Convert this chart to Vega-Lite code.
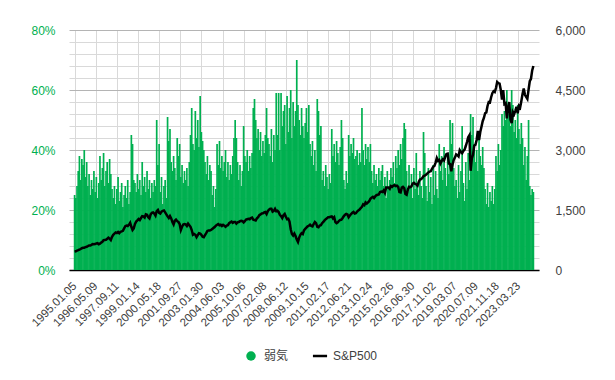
{
"$schema": "https://vega.github.io/schema/vega-lite/v6.json",
"width": 470, "height": 240,
"autosize": {"type": "none"},
"padding": {"left": 69, "top": 30, "right": 76, "bottom": 110},
"background": "white",
"config": {"view": {"stroke": null}, "font": "Liberation Sans"},
"data": {"values": [
{"w":0,"b":25,"s":460},{"w":4,"b":24,"s":468},{"w":8,"b":28,"s":482},{"w":12,"b":33,"s":495},{"w":16,"b":38,"s":510},{"w":20,"b":30,"s":525},{"w":24,"b":37,"s":545},{"w":28,"b":35,"s":555},{"w":32,"b":40,"s":558},{"w":36,"b":31,"s":570},
{"w":40,"b":36,"s":582},{"w":44,"b":28,"s":595},{"w":48,"b":32,"s":612},{"w":52,"b":25,"s":612},{"w":56,"b":30,"s":628},{"w":60,"b":27,"s":650},{"w":64,"b":33,"s":645},{"w":68,"b":26,"s":650},{"w":72,"b":31,"s":665},{"w":76,"b":24,"s":670},
{"w":80,"b":29,"s":645},{"w":84,"b":38,"s":660},{"w":88,"b":30,"s":685},{"w":92,"b":34,"s":705},{"w":96,"b":39,"s":745},{"w":100,"b":28,"s":750},{"w":104,"b":33,"s":755},{"w":108,"b":36,"s":780},{"w":112,"b":29,"s":810},{"w":116,"b":37,"s":785},
{"w":120,"b":32,"s":750},{"w":124,"b":27,"s":830},{"w":128,"b":24,"s":880},{"w":132,"b":28,"s":910},{"w":136,"b":22,"s":940},{"w":140,"b":27,"s":925},{"w":144,"b":31,"s":950},{"w":148,"b":23,"s":920},{"w":152,"b":26,"s":955},{"w":156,"b":29,"s":965},
{"w":160,"b":21,"s":980},{"w":164,"b":25,"s":1040},{"w":168,"b":28,"s":1095},{"w":172,"b":24,"s":1110},{"w":176,"b":30,"s":1100},{"w":180,"b":22,"s":1130},{"w":184,"b":26,"s":1180},{"w":188,"b":45,"s":1080},{"w":192,"b":42,"s":1000},{"w":196,"b":30,"s":1040},
{"w":200,"b":29,"s":1150},{"w":204,"b":26,"s":1210},{"w":208,"b":32,"s":1240},{"w":212,"b":27,"s":1275},{"w":216,"b":30,"s":1250},{"w":220,"b":25,"s":1300},{"w":224,"b":36,"s":1345},{"w":228,"b":28,"s":1340},{"w":232,"b":31,"s":1310},{"w":236,"b":26,"s":1390},
{"w":240,"b":33,"s":1380},{"w":244,"b":27,"s":1320},{"w":248,"b":30,"s":1290},{"w":252,"b":24,"s":1390},{"w":256,"b":29,"s":1430},{"w":260,"b":26,"s":1440},{"w":264,"b":30,"s":1410},{"w":268,"b":28,"s":1360},{"w":272,"b":50,"s":1470},{"w":276,"b":35,"s":1500},
{"w":280,"b":42,"s":1430},{"w":284,"b":26,"s":1410},{"w":288,"b":31,"s":1460},{"w":292,"b":22,"s":1480},{"w":296,"b":28,"s":1490},{"w":300,"b":30,"s":1440},{"w":304,"b":24,"s":1390},{"w":308,"b":51,"s":1340},{"w":312,"b":43,"s":1300},{"w":316,"b":47,"s":1350},
{"w":320,"b":36,"s":1290},{"w":324,"b":33,"s":1200},{"w":328,"b":38,"s":1140},{"w":332,"b":34,"s":1230},{"w":336,"b":30,"s":1260},{"w":340,"b":44,"s":1220},{"w":344,"b":38,"s":1200},{"w":348,"b":42,"s":1150},{"w":352,"b":31,"s":1000},{"w":356,"b":35,"s":1080},
{"w":360,"b":29,"s":1140},{"w":364,"b":33,"s":1150},{"w":368,"b":30,"s":1140},{"w":372,"b":34,"s":1100},{"w":376,"b":28,"s":1160},{"w":380,"b":36,"s":1120},{"w":384,"b":45,"s":1080},{"w":388,"b":54,"s":1000},{"w":392,"b":42,"s":880},{"w":396,"b":40,"s":900},
{"w":400,"b":53,"s":880},{"w":404,"b":44,"s":820},{"w":408,"b":50,"s":870},{"w":412,"b":41,"s":920},{"w":416,"b":58,"s":910},{"w":420,"b":46,"s":880},{"w":424,"b":43,"s":830},{"w":428,"b":40,"s":820},{"w":432,"b":36,"s":870},{"w":436,"b":32,"s":920},
{"w":440,"b":38,"s":975},{"w":444,"b":30,"s":990},{"w":448,"b":35,"s":990},{"w":452,"b":33,"s":1000},{"w":456,"b":25,"s":1025},{"w":460,"b":28,"s":1050},{"w":464,"b":21,"s":1075},{"w":468,"b":27,"s":1110},{"w":472,"b":42,"s":1130},{"w":476,"b":35,"s":1150},
{"w":480,"b":43,"s":1120},{"w":484,"b":34,"s":1130},{"w":488,"b":38,"s":1100},{"w":492,"b":33,"s":1130},{"w":496,"b":36,"s":1110},{"w":500,"b":40,"s":1080},{"w":504,"b":31,"s":1110},{"w":508,"b":36,"s":1120},{"w":512,"b":30,"s":1170},{"w":516,"b":35,"s":1195},
{"w":520,"b":32,"s":1210},{"w":524,"b":38,"s":1180},{"w":528,"b":44,"s":1200},{"w":532,"b":50,"s":1200},{"w":536,"b":44,"s":1160},{"w":540,"b":36,"s":1190},{"w":544,"b":30,"s":1200},{"w":548,"b":35,"s":1220},{"w":552,"b":28,"s":1230},{"w":556,"b":33,"s":1220},
{"w":560,"b":48,"s":1190},{"w":564,"b":38,"s":1220},{"w":568,"b":36,"s":1260},{"w":572,"b":40,"s":1270},{"w":576,"b":33,"s":1280},{"w":580,"b":38,"s":1270},{"w":584,"b":34,"s":1300},{"w":588,"b":39,"s":1310},{"w":592,"b":54,"s":1260},{"w":596,"b":57,"s":1250},
{"w":600,"b":50,"s":1240},{"w":604,"b":44,"s":1290},{"w":608,"b":47,"s":1320},{"w":612,"b":40,"s":1370},{"w":616,"b":46,"s":1390},{"w":620,"b":38,"s":1415},{"w":624,"b":43,"s":1420},{"w":628,"b":39,"s":1440},{"w":632,"b":45,"s":1450},{"w":636,"b":54,"s":1400},
{"w":640,"b":44,"s":1470},{"w":644,"b":42,"s":1510},{"w":648,"b":38,"s":1530},{"w":652,"b":47,"s":1530},{"w":656,"b":36,"s":1460},{"w":660,"b":45,"s":1480},{"w":664,"b":40,"s":1530},{"w":668,"b":59,"s":1470},{"w":672,"b":45,"s":1480},{"w":676,"b":59,"s":1450},
{"w":680,"b":40,"s":1380},{"w":684,"b":59,"s":1350},{"w":688,"b":48,"s":1300},{"w":692,"b":53,"s":1370},{"w":696,"b":55,"s":1400},{"w":700,"b":42,"s":1330},{"w":704,"b":58,"s":1270},{"w":708,"b":46,"s":1280},{"w":712,"b":54,"s":1210},{"w":716,"b":60,"s":1020},
{"w":720,"b":44,"s":900},{"w":724,"b":56,"s":860},{"w":728,"b":48,"s":910},{"w":732,"b":53,"s":850},{"w":736,"b":70,"s":760},{"w":740,"b":55,"s":700},{"w":744,"b":50,"s":810},{"w":748,"b":45,"s":880},{"w":752,"b":54,"s":920},{"w":756,"b":48,"s":900},
{"w":760,"b":44,"s":990},{"w":764,"b":49,"s":1030},{"w":768,"b":54,"s":1060},{"w":772,"b":46,"s":1090},{"w":776,"b":55,"s":1105},{"w":780,"b":42,"s":1130},{"w":784,"b":38,"s":1100},{"w":788,"b":43,"s":1090},{"w":792,"b":35,"s":1150},{"w":796,"b":40,"s":1200},
{"w":800,"b":33,"s":1170},{"w":804,"b":57,"s":1080},{"w":808,"b":53,"s":1070},{"w":812,"b":45,"s":1110},{"w":816,"b":48,"s":1120},{"w":820,"b":30,"s":1170},{"w":824,"b":33,"s":1200},{"w":828,"b":28,"s":1240},{"w":832,"b":35,"s":1270},{"w":836,"b":31,"s":1290},
{"w":840,"b":27,"s":1320},{"w":844,"b":32,"s":1320},{"w":848,"b":29,"s":1330},{"w":852,"b":47,"s":1340},{"w":856,"b":38,"s":1290},{"w":860,"b":42,"s":1320},{"w":864,"b":36,"s":1200},{"w":868,"b":43,"s":1170},{"w":872,"b":39,"s":1190},{"w":876,"b":35,"s":1230},
{"w":880,"b":41,"s":1250},{"w":884,"b":50,"s":1260},{"w":888,"b":44,"s":1300},{"w":892,"b":30,"s":1350},{"w":896,"b":27,"s":1380},{"w":900,"b":33,"s":1400},{"w":904,"b":29,"s":1390},{"w":908,"b":45,"s":1320},{"w":912,"b":38,"s":1360},{"w":916,"b":42,"s":1400},
{"w":920,"b":39,"s":1430},{"w":924,"b":44,"s":1450},{"w":928,"b":37,"s":1410},{"w":932,"b":38,"s":1420},{"w":936,"b":40,"s":1460},{"w":940,"b":35,"s":1490},{"w":944,"b":39,"s":1510},{"w":948,"b":36,"s":1550},{"w":952,"b":54,"s":1580},{"w":956,"b":40,"s":1640},
{"w":960,"b":35,"s":1620},{"w":964,"b":42,"s":1690},{"w":968,"b":37,"s":1660},{"w":972,"b":41,"s":1690},{"w":976,"b":36,"s":1720},{"w":980,"b":42,"s":1780},{"w":984,"b":33,"s":1810},{"w":988,"b":29,"s":1830},{"w":992,"b":35,"s":1800},{"w":996,"b":30,"s":1840},
{"w":1000,"b":32,"s":1870},{"w":1004,"b":28,"s":1880},{"w":1008,"b":34,"s":1890},{"w":1012,"b":30,"s":1950},{"w":1016,"b":33,"s":1960},{"w":1020,"b":35,"s":1950},{"w":1024,"b":28,"s":1990},{"w":1028,"b":31,"s":1930},{"w":1032,"b":24,"s":2060},{"w":1036,"b":33,"s":2060},
{"w":1040,"b":27,"s":2060},{"w":1044,"b":30,"s":2030},{"w":1048,"b":34,"s":2100},{"w":1052,"b":31,"s":2080},{"w":1056,"b":36,"s":2110},{"w":1060,"b":29,"s":2120},{"w":1064,"b":38,"s":2100},{"w":1068,"b":34,"s":2110},{"w":1072,"b":40,"s":2080},{"w":1076,"b":35,"s":1950},
{"w":1080,"b":42,"s":1940},{"w":1084,"b":37,"s":2060},{"w":1088,"b":44,"s":2080},{"w":1092,"b":49,"s":2050},{"w":1096,"b":47,"s":1900},{"w":1100,"b":33,"s":1880},{"w":1104,"b":26,"s":2010},{"w":1108,"b":35,"s":2080},{"w":1112,"b":28,"s":2070},{"w":1116,"b":32,"s":2090},
{"w":1120,"b":24,"s":2160},{"w":1124,"b":34,"s":2180},{"w":1128,"b":27,"s":2150},{"w":1132,"b":39,"s":2140},{"w":1136,"b":29,"s":2110},{"w":1140,"b":25,"s":2200},{"w":1144,"b":33,"s":2260},{"w":1148,"b":28,"s":2270},{"w":1152,"b":24,"s":2300},{"w":1156,"b":46,"s":2350},
{"w":1160,"b":39,"s":2360},{"w":1164,"b":28,"s":2380},{"w":1168,"b":23,"s":2410},{"w":1172,"b":34,"s":2440},{"w":1176,"b":26,"s":2460},{"w":1180,"b":31,"s":2470},{"w":1184,"b":22,"s":2530},{"w":1188,"b":35,"s":2580},{"w":1192,"b":25,"s":2600},{"w":1196,"b":33,"s":2685},
{"w":1200,"b":27,"s":2800},{"w":1204,"b":24,"s":2730},{"w":1208,"b":42,"s":2750},{"w":1212,"b":33,"s":2660},{"w":1216,"b":38,"s":2720},{"w":1220,"b":30,"s":2770},{"w":1224,"b":41,"s":2740},{"w":1228,"b":34,"s":2830},{"w":1232,"b":28,"s":2900},{"w":1236,"b":39,"s":2910},
{"w":1240,"b":32,"s":2660},{"w":1244,"b":50,"s":2650},{"w":1248,"b":42,"s":2470},{"w":1252,"b":49,"s":2630},{"w":1256,"b":34,"s":2750},{"w":1260,"b":28,"s":2810},{"w":1264,"b":30,"s":2890},{"w":1268,"b":24,"s":2870},{"w":1272,"b":35,"s":2840},{"w":1276,"b":26,"s":2995},
{"w":1280,"b":33,"s":2950},{"w":1284,"b":48,"s":2920},{"w":1288,"b":29,"s":2975},{"w":1292,"b":23,"s":3010},{"w":1296,"b":36,"s":3100},{"w":1300,"b":27,"s":3200},{"w":1304,"b":39,"s":3320},{"w":1308,"b":30,"s":3370},{"w":1312,"b":52,"s":2480},{"w":1316,"b":45,"s":2790},
{"w":1320,"b":51,"s":2880},{"w":1324,"b":40,"s":3110},{"w":1328,"b":36,"s":3130},{"w":1332,"b":40,"s":3250},{"w":1336,"b":33,"s":3480},{"w":1340,"b":44,"s":3250},{"w":1344,"b":38,"s":3450},{"w":1348,"b":35,"s":3580},{"w":1352,"b":41,"s":3720},{"w":1356,"b":34,"s":3800},
{"w":1360,"b":27,"s":3920},{"w":1364,"b":22,"s":3940},{"w":1368,"b":29,"s":4100},{"w":1372,"b":21,"s":4200},{"w":1376,"b":26,"s":4190},{"w":1380,"b":23,"s":4320},{"w":1384,"b":28,"s":4420},{"w":1388,"b":22,"s":4470},{"w":1392,"b":27,"s":4450},{"w":1396,"b":38,"s":4550},
{"w":1400,"b":33,"s":4700},{"w":1404,"b":42,"s":4670},{"w":1408,"b":35,"s":4660},{"w":1412,"b":40,"s":4500},{"w":1416,"b":52,"s":4260},{"w":1420,"b":48,"s":4500},{"w":1424,"b":53,"s":4150},{"w":1428,"b":50,"s":4170},{"w":1432,"b":60,"s":3790},{"w":1436,"b":52,"s":4070},
{"w":1440,"b":56,"s":4200},{"w":1444,"b":48,"s":3760},{"w":1448,"b":60,"s":3670},{"w":1452,"b":55,"s":3950},{"w":1456,"b":46,"s":3895},{"w":1460,"b":50,"s":3980},{"w":1464,"b":44,"s":4080},{"w":1468,"b":55,"s":3920},{"w":1472,"b":47,"s":4100},{"w":1476,"b":42,"s":4060},
{"w":1480,"b":49,"s":4220},{"w":1484,"b":44,"s":4400},{"w":1488,"b":35,"s":4540},{"w":1492,"b":41,"s":4380},{"w":1496,"b":30,"s":4330},{"w":1500,"b":38,"s":4280},{"w":1504,"b":50,"s":4510},{"w":1508,"b":28,"s":4720},{"w":1512,"b":25,"s":4780},{"w":1516,"b":27,"s":4990},
{"w":1520,"b":26,"s":5100}
]},
"encoding": {
  "x": {"field": "w", "type": "quantitative",
    "scale": {"domain": [-2, 1522], "nice": false, "zero": false},
    "axis": {"title": null,
      "values": [0,70,140,210,280,350,420,490,560,630,700,770,840,910,980,1050,1120,1190,1260,1330,1400,1470],
      "labelExpr": "['1995.01.05','1996.05.09','1997.09.11','1999.01.14','2000.05.18','2001.09.27','2003.01.30','2004.06.03','2005.10.06','2007.02.08','2008.06.12','2009.10.15','2011.02.17','2012.06.21','2013.10.24','2015.02.26','2016.06.30','2017.11.02','2019.03.07','2020.07.09','2021.11.18','2023.03.23'][round(datum.value/70)]",
      "labelAngle": -45, "labelAlign": "right", "labelBaseline": "middle",
      "labelFontSize": 11.5, "labelColor": "#404040", "labelOverlap": false, "labelPadding": 14,
      "ticks": false, "domainColor": "#000000", "domainWidth": 1.5,
      "grid": true, "gridColor": "#d9d9d9", "gridWidth": 1}}
},
"layer": [
  {"mark": {"type": "bar", "width": 1.7},
   "encoding": {
     "y": {"field": "b", "type": "quantitative",
       "scale": {"domain": [0, 80], "nice": false},
       "axis": {"title": null,
         "values": [0,4,8,12,16,20,24,28,32,36,40,44,48,52,56,60,64,68,72,76,80],
         "labelExpr": "datum.value % 20 === 0 ? datum.value + '%' : ''",
         "labelColor": "#00b050", "labelFontSize": 12, "labelPadding": 14,
         "ticks": false, "domain": false, "labelOverlap": false,
         "grid": true, "gridWidth": 1,
         "gridColor": {"condition": {"test": "datum.value % 20 === 0", "value": "#b4b4b4"}, "value": "#d9d9d9"}}},
     "color": {"datum": "弱気", "type": "nominal",
       "scale": {"domain": ["弱気", "S&P500"], "range": ["#00b050", "#000000"]},
       "legend": {"title": null, "orient": "none", "legendX": 176, "legendY": 320, "direction": "horizontal",
         "labelFont": "Liberation Sans, Noto Sans CJK JP", "labelFontSize": 12, "labelColor": "#404040",
         "labelOffset": 7, "columnPadding": 18, "symbolSize": 90,
         "encode": {"symbols": {"update": {
           "shape": {"signal": "datum.value === 'S&P500' ? 'stroke' : 'circle'"},
           "size": {"signal": "datum.value === 'S&P500' ? 200 : 90"},
           "fill": {"signal": "datum.value === 'S&P500' ? 'transparent' : '#00b050'"},
           "stroke": {"signal": "datum.value === 'S&P500' ? '#000000' : '#00b050'"},
           "strokeWidth": {"signal": "datum.value === 'S&P500' ? 2.5 : 0"},
           "opacity": {"value": 1}}}}}}
   }},
  {"mark": {"type": "line", "strokeWidth": 2.5},
   "encoding": {
     "y": {"field": "s", "type": "quantitative",
       "scale": {"domain": [0, 6000], "nice": false},
       "axis": {"title": null, "orient": "right", "values": [0,1500,3000,4500,6000], "format": ",d",
         "labelColor": "#404040", "labelFontSize": 12, "labelPadding": 16,
         "ticks": false, "domain": false, "grid": false}},
     "color": {"datum": "S&P500", "type": "nominal"}
   }}
],
"resolve": {"scale": {"y": "independent"}}
}
